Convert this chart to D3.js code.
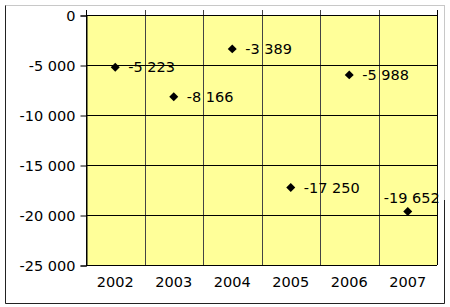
<!DOCTYPE html>
<html>
<head>
<meta charset="utf-8">
<script src="https://cdn.jsdelivr.net/npm/d3@7"></script>
<style>
  body { margin: 0; background: #fff; }
  svg text { font-family: "DejaVu Sans", Verdana, sans-serif; font-size: 14.5px; fill: #000; }
</style>
</head>
<body>
<div id="chart"></div>
<script>
// chart data
const years = ['2002', '2003', '2004', '2005', '2006', '2007'];
const values = [-5223, -8166, -3389, -17250, -5988, -19652];
const yTicks = [0, -5000, -10000, -15000, -20000, -25000];

const width = 450;
const height = 307;
const margin = { top: 15, right: 13, bottom: 42, left: 86 };

const svg = d3.select('#chart')
  .append('svg')
  .attr('width', width)
  .attr('height', height);

// outer frame
svg.append('rect')
  .attr('x', 5.5).attr('y', 5.5)
  .attr('width', 439).attr('height', 298)
  .attr('fill', '#fff')
  .attr('stroke', '#c8c8c8');
svg.append('path')
  .attr('d', 'M5.5,5.5V303.5H444.5V200')
  .attr('fill', 'none')
  .attr('stroke', '#222');

const x = d3.scaleBand()
  .domain(years)
  .range([margin.left, width - margin.right]);

const y = d3.scaleLinear()
  .domain([-25000, 0])
  .range([height - margin.bottom, margin.top]);

// hyphen minus and space as thousands separator
const locale = d3.formatLocale({ decimal: ',', thousands: ' ', grouping: [3], currency: ['', ''], minus: '-' });
const fmt = locale.format(',');

// plot area
svg.append('rect')
  .attr('x', margin.left)
  .attr('y', margin.top)
  .attr('width', x.range()[1] - x.range()[0])
  .attr('height', y(-25000) - y(0))
  .attr('fill', '#ffff99');

// vertical grid lines at category boundaries (ticks extend above)
const bounds = years.map(d => x(d)).concat([x.range()[1]]);
svg.append('g')
  .selectAll('line')
  .data(bounds)
  .enter()
  .append('line')
  .attr('x1', d => Math.round(d) + 0.5)
  .attr('x2', d => Math.round(d) + 0.5)
  .attr('y1', margin.top - 5)
  .attr('y2', y(-25000))
  .attr('stroke', (d, i) => (i === 0 || i === bounds.length - 1) ? '#000' : '#444')
  .attr('stroke-width', 1);

// horizontal grid lines
svg.append('g')
  .selectAll('line')
  .data(yTicks)
  .enter()
  .append('line')
  .attr('x1', margin.left)
  .attr('x2', x.range()[1])
  .attr('y1', d => Math.round(y(d)) + 0.5)
  .attr('y2', d => Math.round(y(d)) + 0.5)
  .attr('stroke', '#000');

// y axis
const yAxis = d3.axisLeft(y)
  .tickValues(yTicks)
  .tickSize(6)
  .tickPadding(5)
  .tickFormat(d => fmt(d));

const yG = svg.append('g')
  .attr('transform', `translate(${margin.left + 0.5},0.5)`)
  .call(yAxis);
yG.select('.domain').attr('stroke', '#000');
yG.selectAll('text').style('font-size', '14.5px');

// x axis labels at the bottom
const xAxis = d3.axisBottom(x).tickSize(0).tickPadding(12);
const xG = svg.append('g')
  .attr('transform', `translate(0,${y(-25000)})`)
  .call(xAxis);
xG.select('.domain').remove();
xG.selectAll('text').style('font-size', '14.5px');

// points: square rotated 45 degrees
const diamond = d3.symbol().type(d3.symbolSquare).size(40);
svg.append('g')
  .selectAll('path')
  .data(values)
  .enter()
  .append('path')
  .attr('d', diamond)
  .attr('transform', (d, i) => `translate(${x(years[i]) + x.bandwidth() / 2},${y(d)}) rotate(45)`)
  .attr('fill', '#000');

// data labels
svg.append('g')
  .selectAll('text')
  .data(values)
  .enter()
  .append('text')
  .attr('x', (d, i) => x(years[i]) + x.bandwidth() / 2 + (i === 5 ? 4 : 13))
  .attr('y', (d, i) => y(d) + (i === 5 ? -9 : 5))
  .attr('text-anchor', (d, i) => i === 5 ? 'middle' : 'start')
  .style('font-size', '14.5px')
  .text(d => fmt(d));
</script>
</body>
</html>
